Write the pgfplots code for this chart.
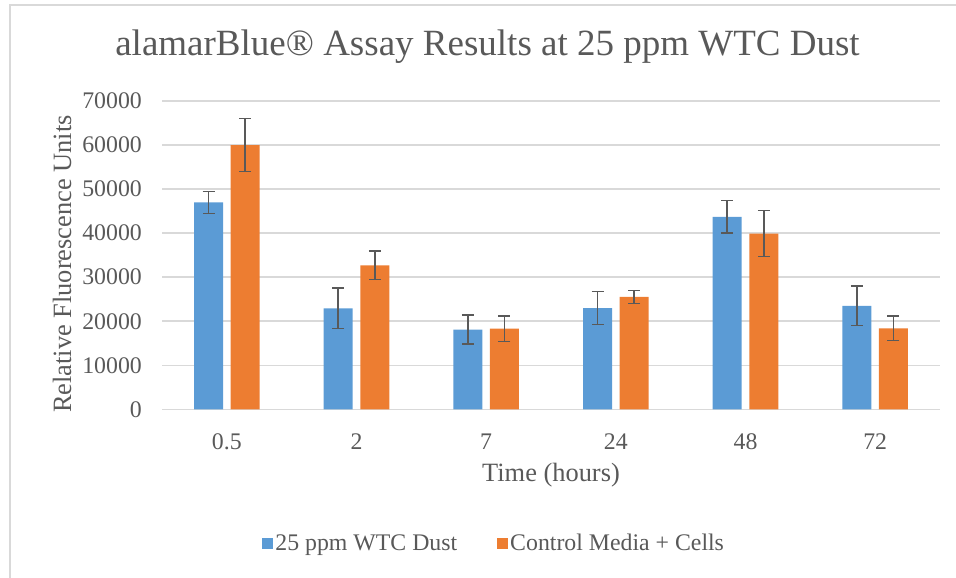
\documentclass[border=0pt]{standalone}
\usepackage{fontspec}
\setmainfont{Liberation Serif}
\usepackage{pgfplots}
\pgfplotsset{compat=1.18}

\definecolor{barblue}{HTML}{5B9BD5}
\definecolor{barorange}{HTML}{ED7D31}
\definecolor{gridgray}{HTML}{D9D9D9}
\definecolor{textgray}{HTML}{595959}

\newcommand{\ticksize}{\fontsize{23.8}{28}\selectfont}
\newcommand{\labelsize}{\fontsize{26.4}{31}\selectfont}
\newcommand{\titlesize}{\fontsize{37}{44}\selectfont}

\begin{document}
\begin{tikzpicture}
  \useasboundingbox (0pt,0pt) rectangle (956pt,578pt);
  % chart frame, cut at the right and bottom of the crop
  \draw[gridgray, line width=1.5pt] (10pt,0pt) -- (10pt,573pt) -- (956pt,573pt);

  \node[font=\titlesize, text=textgray] at (487.5pt,531pt) {alamarBlue® Assay Results at 25 ppm WTC Dust};
  \node[font=\labelsize, text=textgray] at (551pt,103pt) {Time (hours)};
  \node[font=\labelsize, text=textgray, rotate=90] at (62pt,314pt) {Relative Fluorescence Units};

  \begin{axis}[
      at={(162pt,168.7pt)}, anchor=south west,
      width=778pt, height=308.3pt, scale only axis,
      ybar,
      xmin=-0.5, xmax=5.5,
      ymin=0, ymax=70000,
      xtick={0,...,5},
      xticklabels={0.5,2,7,24,48,72},
      ytick={0,10000,...,70000},
      scaled y ticks=false,
      ymajorgrids,
      grid style={gridgray, line width=1.5pt},
      axis line style={draw=none},
      major tick style={draw=none},
      tick label style={font=\ticksize, text=textgray},
      yticklabel style={anchor=east, inner sep=0pt, xshift=-20pt},
      xticklabel style={anchor=center, inner sep=0pt, yshift=-28pt},
      /pgf/number format/1000 sep={},
      /pgf/number format/assume math mode=true,
      legend columns=2,
      legend style={at={(0.427,-0.434)}, anchor=center, draw=none,
        font=\ticksize, text=textgray,
        /tikz/every even column/.append style={column sep=38pt}},
      legend image code/.code={\fill (0pt,-5.5pt) rectangle (11pt,5.5pt);},
    ]
    \addplot[fill=barblue, draw=none, bar width=29pt, bar shift=-18.3pt,
      error bars/.cd, y dir=both, y explicit,
      error bar style={textgray, line width=1.5pt},
      error mark options={textgray, rotate=90, mark size=6pt, line width=1.5pt}]
      coordinates {
        (0,47000) +- (0,2500)
        (1,22900) +- (0,4600)
        (2,18100) +- (0,3300)
        (3,23000) +- (0,3700)
        (4,43700) +- (0,3700)
        (5,23500) +- (0,4500)
      };
    \addlegendentry{25 ppm WTC Dust}
    \addplot[fill=barorange, draw=none, bar width=29pt, bar shift=18.3pt,
      error bars/.cd, y dir=both, y explicit,
      error bar style={textgray, line width=1.5pt},
      error mark options={textgray, rotate=90, mark size=6pt, line width=1.5pt}]
      coordinates {
        (0,60000) +- (0,6000)
        (1,32700) +- (0,3200)
        (2,18300) +- (0,2900)
        (3,25500) +- (0,1500)
        (4,39900) +- (0,5200)
        (5,18400) +- (0,2800)
      };
    \addlegendentry{Control Media + Cells}
  \end{axis}
\end{tikzpicture}
\end{document}
